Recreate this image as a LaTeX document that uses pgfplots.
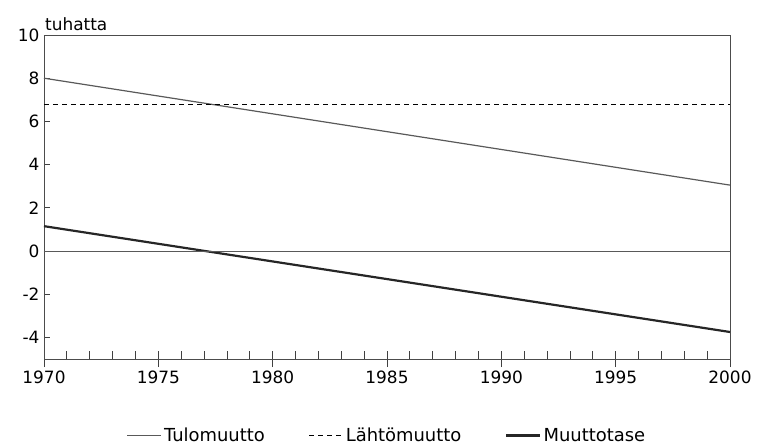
\documentclass[border=0pt]{standalone}
\usepackage{pgfplots}
\pgfplotsset{compat=1.18}
\usepackage{fontspec}
\setmainfont{DejaVu Sans}
\begin{document}
\begin{tikzpicture}
\useasboundingbox (-44bp,-86bp) rectangle (720bp,359bp);
\begin{axis}[
    scale only axis,
    width=686bp, height=324bp,
    xmin=1970, xmax=2000,
    ymin=-5, ymax=10,
    xtick={1970,1975,...,2000},
    ytick={-4,-2,...,10},
    minor x tick num=4,
    xtick pos=bottom, ytick pos=left,
    xtick align=center, ytick align=inside,
    major tick length=6bp,
    x tick style={black!75, line width=0.8pt},
    y tick style={black!75, line width=0.8pt},
    major x tick style={/pgfplots/major tick length=16bp},
    minor x tick style={/pgfplots/minor tick length=8bp, yshift=4bp},
    axis line style={black!70, line width=0.9pt},
    every tick label/.append style={font=\fontsize{17}{19}\selectfont},
    /pgf/number format/assume math mode=true,
    /pgf/number format/1000 sep={},
    xticklabel style={yshift=-5bp},
    yticklabel style={xshift=-1bp},
    ylabel={tuhatta},
    ylabel style={rotate=-90, at={(rel axis cs:0,1)}, anchor=south west,
        font=\fontsize{17}{19}\selectfont, inner sep=1bp, yshift=3bp},
    legend style={at={(0.5,-0.2)}, anchor=north, draw=none,
        font=\fontsize{18}{20}\selectfont, legend columns=3,
        /tikz/every even column/.append style={column sep=42bp}},
    legend image code/.code={\draw[#1] (0bp,0bp) -- (34bp,0bp);},
    legend cell align=left,
]
\addplot[black!65, line width=1.2pt] coordinates {(1970,8.0) (2000,3.05)};
\addlegendentry{Tulomuutto}
\addplot[black, line width=1pt, dash pattern=on 5bp off 4bp] coordinates {(1970,6.8) (2000,6.8)};
\addlegendentry{Lähtömuutto}
\addplot[black!85, line width=2.2pt] coordinates {(1970,1.15) (2000,-3.75)};
\addlegendentry{Muuttotase}
\addplot[black!65, line width=0.9pt, forget plot] coordinates {(1970,0) (2000,0)};
\end{axis}
\end{tikzpicture}
\end{document}
